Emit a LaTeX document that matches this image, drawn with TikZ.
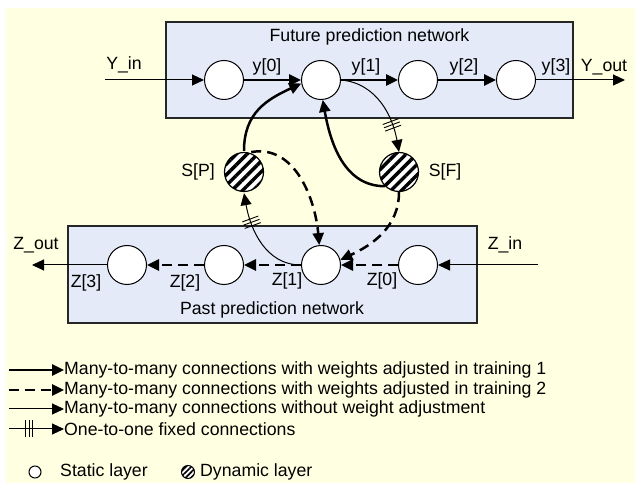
\documentclass[tikz,border=0pt]{standalone}
\usepackage{fontspec}
\setmainfont{Liberation Sans}
\usepackage{tikz}
\usetikzlibrary{calc, arrows.meta, patterns.meta, decorations.markings}
\tikzset{>={Triangle[length=12pt,width=11pt]}}
\definecolor{mybg}{RGB}{255, 255, 225}
\definecolor{mybox}{RGB}{228, 234, 247}
\tikzset{
  netbox/.style={draw=black!85, line width=1.2pt, fill=mybox},
  statc/.style={circle, draw, line width=1pt, fill=white, minimum size=39pt, inner sep=0pt},
  dync/.style={circle, draw, line width=1.2pt, minimum size=39pt, inner sep=0pt,
    preaction={fill=white}, pattern={Lines[angle=45,distance=7.5pt,line width=3.4pt]}},
  txt/.style={font=\fontsize{17.7}{20}\selectfont, inner sep=0pt},
  train1/.style={->, line width=2.5pt},
  train2/.style={->, line width=2.5pt, dash pattern=on 10pt off 6pt},
  plain/.style={->, line width=1pt},
  fixed/.style={->, line width=1pt, postaction={decorate},
    decoration={markings, mark=at position #1 with {
      \foreach \d in {-3.5,0,3.5} \draw[-, line width=0.9pt] (\d pt,-8.5pt) -- (\d pt,8.5pt);}}},
}

\begin{document}
\begin{tikzpicture}[x=1pt, y=1pt]
\useasboundingbox (0,0) rectangle (635,-486);
\fill[white] (0,0) rectangle (635,-486);
\fill[mybg] (6,-8) rectangle (635,-483);

% the two networks
\draw[netbox] (166,-22) rectangle (573,-118);
\draw[netbox] (68,-226) rectangle (477,-323);
\node[txt] (ttlf) at (369.5,-37) {Future prediction network};
\node[txt] (ttlp) at (272,-310) {Past prediction network};

% layers
\foreach \i/\x in {0/224, 1/321, 2/418, 3/516}
  \node[statc] (f\i) at (\x,-80) {};
\foreach \i/\x in {0/418, 1/321, 2/224, 3/127}
  \node[statc] (p\i) at (\x,-265) {};
\node[dync] (sp) at (244,-172) {};
\node[dync] (sf) at (399,-172) {};

\coordinate (yin) at (105,-80);
\coordinate (yout) at (625,-80);
\coordinate (zin) at (538,-265);
\coordinate (zout) at (32,-265);

% labels
\node[txt] (lyin) at (124,-65) {Y\_in};
\node[txt] (lyout) at (604,-67) {Y\_out};
\node[txt] (ly0) at (267,-67) {y[0]};
\node[txt] (ly1) at (366,-67) {y[1]};
\node[txt] (ly2) at (464,-67) {y[2]};
\node[txt] (ly3) at (556,-67) {y[3]};
\node[txt] (lsp) at (198,-172) {S[P]};
\node[txt] (lsf) at (445,-172) {S[F]};
\node[txt] (lzout) at (36,-245) {Z\_out};
\node[txt] (lzin) at (505,-245) {Z\_in};
\node[txt] (lz3) at (86,-283) {Z[3]};
\node[txt] (lz2) at (185,-283) {Z[2]};
\node[txt] (lz1) at (287,-281) {Z[1]};
\node[txt] (lz0) at (382,-281) {Z[0]};

% rows
\draw[plain] (yin) -- (f0);
\draw[train1] (f0) -- (f1);
\draw[train1] (f1) -- (f2);
\draw[train1] (f2) -- (f3);
\draw[plain] (f3) -- (yout);
\draw[plain] (zin) -- (p0);
\draw[train2] (p0) -- (p1);
\draw[train2] (p1) -- (p2);
\draw[train2] (p2) -- (p3);
\draw[plain] (p3) -- (zout);

% between the networks
\draw[train1] (sp.north) to[out=90, in=205, looseness=1.1] (f1.190);
\draw[train1] (sf.225) to[out=180, in=-80] (f1.-85);
\draw[fixed=0.72] (f1.east) to[out=-5, in=100] (sf.north);
\draw[train2] (sp.70) to[out=10, in=95] (p1.95);
\draw[fixed=0.7] (p1.west) to[out=180, in=-80] (sp.south);
\draw[train2] (sf.south) to[out=-90, in=25] (p1.15);

% legend
\node[txt, anchor=west] (t1) at (64,-370) {Many-to-many connections with weights adjusted in training 1};
\node[txt, anchor=west] (t2) at (64,-390) {Many-to-many connections with weights adjusted in training 2};
\node[txt, anchor=west] (t3) at (64,-409) {Many-to-many connections without weight adjustment};
\node[txt, anchor=west] (t4) at (64,-429) {One-to-one fixed connections};
\coordinate (s1) at (9,-370);
\coordinate (s2) at (9,-390);
\coordinate (s3) at (9,-409);
\coordinate (s4) at (9,-429);
\draw[train1] (s1) -- (t1.west);
\draw[train2] (s2) -- (t2.west);
\draw[plain] (s3) -- (t3.west);
\draw[fixed=20pt] (s4) -- (t4.west);

\node[statc, minimum size=12pt] (ks) at (35,-472) {};
\node[txt, anchor=west] (t5) at (60,-472) {Static layer};
\node[dync, minimum size=13pt, line width=1pt, pattern={Lines[angle=45,distance=3.8pt,line width=1.7pt]}] (kd) at (188,-472) {};
\node[txt, anchor=west] (t6) at (200,-472) {Dynamic layer};
\end{tikzpicture}
\end{document}
